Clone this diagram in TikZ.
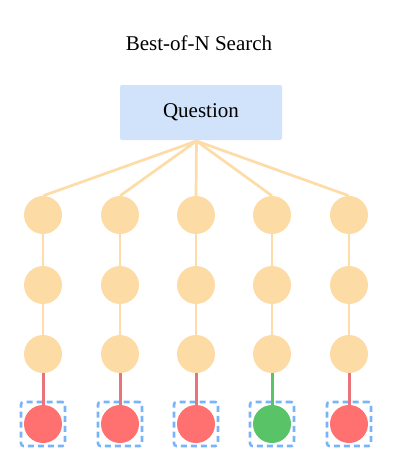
\documentclass[tikz,border=0pt]{standalone}
\usepackage{fontspec}
\setmainfont{Liberation Serif}
\definecolor{qblue}{HTML}{D0E3FB}
\definecolor{stepor}{HTML}{FDDBA5}
\definecolor{lineor}{HTML}{FDDCA8}
\definecolor{badred}{HTML}{FF7070}
\definecolor{badline}{HTML}{E8737A}
\definecolor{goodgreen}{HTML}{58C367}
\definecolor{selblue}{HTML}{7AB4F8}
\tikzset{
  stepnode/.style={circle,fill=stepor,minimum size=38pt,inner sep=0pt},
  badnode/.style={circle,fill=badred,minimum size=38pt,inner sep=0pt},
  goodnode/.style={circle,fill=goodgreen,minimum size=38pt,inner sep=0pt},
  pickbox/.style={draw=selblue,line width=2.6pt,dash pattern=on 6pt off 4pt,rounded corners=2.5pt,minimum size=44pt,inner sep=0pt},
  orline/.style={draw=lineor,line width=2.7pt},
  redline/.style={draw=badline,line width=3pt},
  greenline/.style={draw=goodgreen,line width=3pt}
}
\begin{document}
\begin{tikzpicture}[x=1pt,y=-1pt,font=\fontsize{21}{25}\selectfont]
\useasboundingbox (0,0) rectangle (404,459);

\node (title) at (199,43) {Best-of-N Search};
\node[fill=qblue,rounded corners=2pt,minimum width=162pt,minimum height=55pt] (Q) at (201,112.5) {Question};
\coordinate (qb) at (196.5,141);

\node[stepnode] (a1) at (43,215) {};
\node[stepnode] (a2) at (43,285) {};
\node[stepnode] (a3) at (43,354) {};
\node[badnode]  (a4) at (43,424) {};
\node[stepnode] (b1) at (120,215) {};
\node[stepnode] (b2) at (120,285) {};
\node[stepnode] (b3) at (120,354) {};
\node[badnode]  (b4) at (120,424) {};
\node[stepnode] (c1) at (196,215) {};
\node[stepnode] (c2) at (196,285) {};
\node[stepnode] (c3) at (196,354) {};
\node[badnode]  (c4) at (196,424) {};
\node[stepnode] (d1) at (272,215) {};
\node[stepnode] (d2) at (272,285) {};
\node[stepnode] (d3) at (272,354) {};
\node[goodnode] (d4) at (272,424) {};
\node[stepnode] (e1) at (349,215) {};
\node[stepnode] (e2) at (349,285) {};
\node[stepnode] (e3) at (349,354) {};
\node[badnode]  (e4) at (349,424) {};

\node[pickbox] (pa) at (a4) {};
\node[pickbox] (pb) at (b4) {};
\node[pickbox] (pc) at (c4) {};
\node[pickbox] (pd) at (d4) {};
\node[pickbox] (pe) at (e4) {};

\draw[orline] (qb) -- (a1.north);
\draw[orline] (qb) -- (b1.north);
\draw[orline] (qb) -- (c1.north);
\draw[orline] (qb) -- (d1.north);
\draw[orline] (qb) -- (e1.north);
\draw[orline] (a1) -- (a2) -- (a3);
\draw[orline] (b1) -- (b2) -- (b3);
\draw[orline] (c1) -- (c2) -- (c3);
\draw[orline] (d1) -- (d2) -- (d3);
\draw[orline] (e1) -- (e2) -- (e3);
\draw[redline] (a3) -- (a4);
\draw[redline] (b3) -- (b4);
\draw[redline] (c3) -- (c4);
\draw[greenline] (d3) -- (d4);
\draw[redline] (e3) -- (e4);

\end{tikzpicture}
\end{document}
